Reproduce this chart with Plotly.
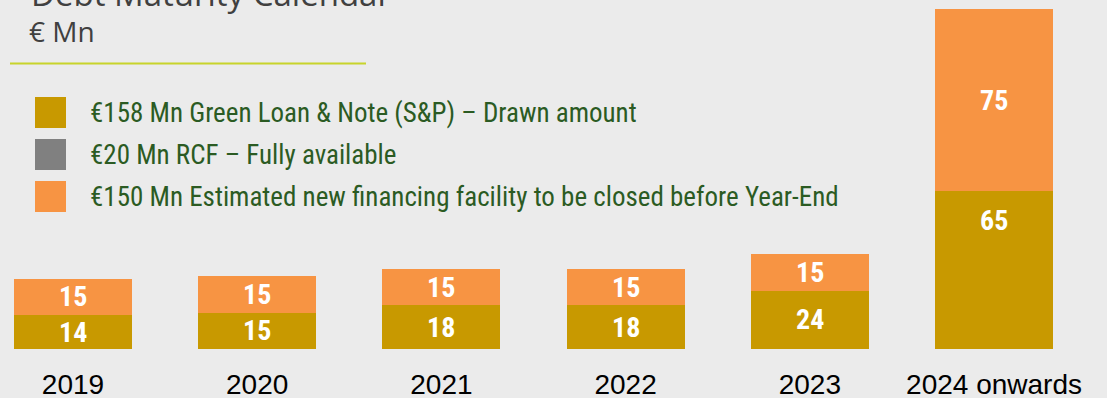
import plotly.graph_objects as go

# Debt maturity profile, € Mn
years = ["2019", "2020", "2021", "2022", "2023", "2024 onwards"]
green_loan = [14, 15, 18, 18, 24, 65]
new_facility = [15, 15, 15, 15, 15, 75]

series_names = [
    "€158 Mn Green Loan & Note (S&P) – Drawn amount",
    "€20 Mn RCF – Fully available",
    "€150 Mn Estimated new financing facility to be closed before Year-End",
]
series_colors = ["#C89900", "#808080", "#F79443"]

W, H = 1107, 398
MB = 49
PH = H - MB  # plot-area height in px

BG = "#EBEBEB"
NARROW = "Roboto Condensed, Liberation Sans Narrow, Arial Narrow, sans-serif"

fig = go.Figure()
fig.add_trace(go.Bar(x=years, y=green_loan, name=series_names[0],
                     marker=dict(color=series_colors[0], line=dict(width=0))))
fig.add_trace(go.Bar(x=years, y=new_facility, name=series_names[2],
                     marker=dict(color=series_colors[2], line=dict(width=0))))


def px_x(p):
    return p / W


def px_y(p):
    return (PH - p) / PH


annotations = []
shapes = []

# value labels inside the stacked segments
for i, (g, n) in enumerate(zip(green_loan, new_facility)):
    annotations.append(dict(x=i, y=max(g / 2, g - 12), xref="x", yref="y",
                            text=f"<b>{g}</b>", showarrow=False,
                            font=dict(family=NARROW, size=28, color="white"),
                            xanchor="center", yanchor="middle"))
    annotations.append(dict(x=i, y=g + n / 2, xref="x", yref="y",
                            text=f"<b>{n}</b>", showarrow=False,
                            font=dict(family=NARROW, size=28, color="white"),
                            xanchor="center", yanchor="middle"))

# heading
annotations.append(dict(x=px_x(29), y=px_y(18), xref="paper", yref="paper",
                        text="Debt Maturity Calendar", showarrow=False,
                        xanchor="left", yanchor="bottom",
                        font=dict(family="Open Sans, sans-serif", size=33, color="#404040")))
annotations.append(dict(x=px_x(27), y=px_y(31), xref="paper", yref="paper",
                        text="€ Mn", showarrow=False,
                        xanchor="left", yanchor="middle",
                        font=dict(family="Open Sans, sans-serif", size=28, color="#404040")))
shapes.append(dict(type="line", xref="paper", yref="paper",
                   x0=px_x(10), x1=px_x(366), y0=px_y(63.5), y1=px_y(63.5),
                   line=dict(color="#C8D42B", width=2)))

# key
row_tops = [97, 139, 181]
for name, color, top in zip(series_names, series_colors, row_tops):
    shapes.append(dict(type="rect", xref="paper", yref="paper",
                       x0=px_x(35), x1=px_x(66), y0=px_y(top), y1=px_y(top + 31),
                       fillcolor=color, line=dict(width=0)))
    annotations.append(dict(x=px_x(88), y=px_y(top + 16), xref="paper", yref="paper",
                            text=name, showarrow=False, xanchor="left", yanchor="middle",
                            font=dict(family=NARROW, size=27, color="#2B5B23")))

fig.update_layout(
    barmode="stack",
    bargap=0.36,
    width=W, height=H,
    margin=dict(l=0, r=0, t=0, b=MB),
    paper_bgcolor=BG, plot_bgcolor=BG,
    showlegend=False,
    annotations=annotations,
    shapes=shapes,
    xaxis=dict(type="category", range=[-0.396, 5.613], showgrid=False, zeroline=False,
               showline=False, ticks="", automargin=False,
               tickfont=dict(family="Liberation Sans, Arial, sans-serif",
                             size=28, color="#000000"),
               ticklabelstandoff=16),
    yaxis=dict(range=[0, PH / 2.4286], visible=False),
)

fig.write_html("out.html")
